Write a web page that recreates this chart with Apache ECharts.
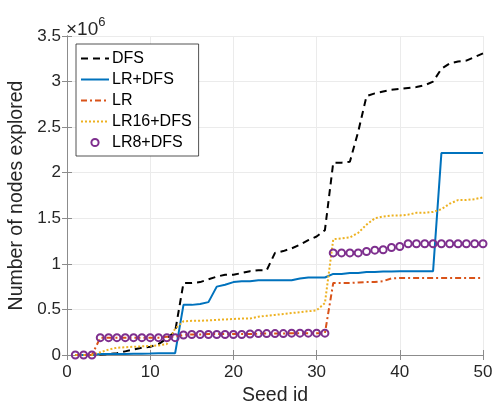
<!DOCTYPE html>
<html>
<head>
<meta charset="utf-8">
<script src="https://cdn.jsdelivr.net/npm/echarts@6/dist/echarts.min.js"></script>
<style>
  html, body { margin: 0; padding: 0; background: #fff; }
  #chart { width: 493px; height: 407px; }
</style>
</head>
<body>
<div id="chart"></div>
<script>
// seed ids on the x axis
const seeds = [1, 2, 3, 4, 5, 6, 7, 8, 9, 10,
  11, 12, 13, 14, 15, 16, 17, 18, 19, 20,
  21, 22, 23, 24, 25, 26, 27, 28, 29, 30,
  31, 32, 33, 34, 35, 36, 37, 38, 39, 40,
  41, 42, 43, 44, 45, 46, 47, 48, 49, 50];

// nodes explored, in units of 10^6
const dfs = [0, 0, 0, 0.005, 0.01, 0.02, 0.04, 0.06, 0.08, 0.09,
  0.12, 0.18, 0.26, 0.79, 0.79, 0.80, 0.83, 0.86, 0.88, 0.88,
  0.90, 0.92, 0.93, 0.93, 1.12, 1.14, 1.17, 1.21, 1.26, 1.30,
  1.37, 2.11, 2.11, 2.12, 2.45, 2.84, 2.87, 2.89, 2.91, 2.92,
  2.93, 2.94, 2.96, 3.00, 3.14, 3.20, 3.22, 3.23, 3.27, 3.31];

const lrDfs = [0, 0, 0, 0.01, 0.01, 0.01, 0.012, 0.014, 0.015, 0.016,
  0.018, 0.02, 0.02, 0.55, 0.55, 0.56, 0.58, 0.75, 0.77, 0.80,
  0.81, 0.81, 0.82, 0.82, 0.82, 0.82, 0.82, 0.84, 0.85, 0.85,
  0.85, 0.89, 0.89, 0.90, 0.90, 0.91, 0.91, 0.915, 0.915, 0.92,
  0.92, 0.92, 0.92, 0.92, 2.215, 2.215, 2.215, 2.215, 2.215, 2.215];

const lr = [0, 0, 0, 0.19, 0.19, 0.19, 0.19, 0.19, 0.19, 0.19,
  0.19, 0.20, 0.20, 0.22, 0.225, 0.225, 0.23, 0.23, 0.23, 0.23,
  0.23, 0.23, 0.235, 0.235, 0.235, 0.235, 0.24, 0.24, 0.24, 0.24,
  0.24, 0.79, 0.79, 0.79, 0.795, 0.80, 0.80, 0.81, 0.84, 0.845,
  0.845, 0.845, 0.845, 0.845, 0.845, 0.845, 0.845, 0.845, 0.845, 0.845];

const lr16Dfs = [0, 0, 0, 0.03, 0.06, 0.08, 0.085, 0.09, 0.095, 0.10,
  0.105, 0.12, 0.29, 0.37, 0.375, 0.375, 0.38, 0.385, 0.39, 0.395,
  0.40, 0.40, 0.42, 0.43, 0.44, 0.45, 0.46, 0.47, 0.48, 0.49,
  0.57, 1.27, 1.28, 1.29, 1.34, 1.43, 1.50, 1.52, 1.53, 1.53,
  1.54, 1.56, 1.56, 1.57, 1.60, 1.66, 1.70, 1.70, 1.71, 1.73];

const lr8Dfs = [0, 0, 0, 0.19, 0.19, 0.19, 0.19, 0.19, 0.19, 0.19,
  0.19, 0.19, 0.19, 0.22, 0.225, 0.225, 0.225, 0.225, 0.225, 0.225,
  0.225, 0.23, 0.235, 0.235, 0.235, 0.235, 0.24, 0.24, 0.24, 0.24,
  0.24, 1.12, 1.12, 1.12, 1.12, 1.135, 1.15, 1.155, 1.18, 1.19,
  1.22, 1.22, 1.22, 1.22, 1.22, 1.22, 1.22, 1.22, 1.22, 1.22];

const FONT = 'Liberation Sans';
const TXT = '#262626';
const pairs = vals => seeds.map((s, i) => [s, vals[i]]);

const chart = echarts.init(document.getElementById('chart'));

const axisLine = { show: true, lineStyle: { color: '#8c8c8c', width: 1 } };
const tickIn = { show: true, inside: true, length: 5, lineStyle: { color: '#8c8c8c' } };
// line entries show only their line in the legend
const hideSymbol = { color: 'rgba(0,0,0,0)', borderColor: 'rgba(0,0,0,0)', borderWidth: 0, opacity: 0 };

const option = {
  backgroundColor: '#fff',
  animation: false,
  grid: { left: 67, right: 10, top: 36, bottom: 52, outerBoundsMode: 'none' },
  graphic: [{
    type: 'text',
    left: 66,
    top: 16,
    style: {
      text: '{a|×10}{b|6}',
      rich: {
        a: { fontFamily: FONT, fontSize: 19, fill: TXT, verticalAlign: 'bottom' },
        b: { fontFamily: FONT, fontSize: 13, fill: TXT, verticalAlign: 'top', padding: [0, 0, 10, 0] }
      }
    }
  }],
  legend: {
    data: [
      { name: 'DFS', itemStyle: hideSymbol },
      { name: 'LR+DFS', itemStyle: hideSymbol },
      { name: 'LR', itemStyle: hideSymbol },
      { name: 'LR16+DFS', itemStyle: hideSymbol },
      { name: 'LR8+DFS', lineStyle: { opacity: 0, width: 0 } }
    ],
    orient: 'vertical',
    left: 76,
    top: 44,
    padding: [6, 7, 5, 4],
    itemGap: 4,
    itemWidth: 28,
    itemHeight: 9,
    backgroundColor: '#fff',
    borderColor: '#262626',
    borderWidth: 0.8,
    borderRadius: 0,
    textStyle: { fontFamily: FONT, fontSize: 16, lineHeight: 17, color: '#000', padding: [0, 0, 0, -2] }
  },
  xAxis: [{
    type: 'value',
    min: 0, max: 50, interval: 10,
    name: 'Seed id',
    nameLocation: 'middle',
    nameGap: 30,
    nameTextStyle: { fontFamily: FONT, fontSize: 19.5, color: TXT },
    axisLine: axisLine,
    axisTick: tickIn,
    axisLabel: { fontFamily: FONT, fontSize: 17, color: TXT, margin: 9 },
    splitLine: { show: true, lineStyle: { color: '#ebebeb' } }
  }, {
    type: 'value', position: 'top',
    min: 0, max: 50, interval: 10,
    axisLine: axisLine, axisTick: tickIn,
    axisLabel: { show: false }, splitLine: { show: false }
  }],
  yAxis: [{
    type: 'value',
    min: 0, max: 3.5, interval: 0.5,
    name: 'Number of nodes explored',
    nameLocation: 'middle',
    nameGap: 37,
    nameTextStyle: { fontFamily: FONT, fontSize: 19.5, color: TXT },
    axisLine: axisLine,
    axisTick: tickIn,
    axisLabel: { fontFamily: FONT, fontSize: 17, color: TXT, margin: 6 },
    splitLine: { show: true, lineStyle: { color: '#ebebeb' } }
  }, {
    type: 'value', position: 'right',
    min: 0, max: 3.5, interval: 0.5,
    axisLine: axisLine, axisTick: tickIn,
    axisLabel: { show: false }, splitLine: { show: false }
  }],
  series: [
    {
      name: 'DFS', type: 'line', data: pairs(dfs),
      symbol: 'none', color: '#000',
      lineStyle: { color: '#000', width: 2, type: [7, 5] }
    },
    {
      name: 'LR+DFS', type: 'line', data: pairs(lrDfs),
      symbol: 'none', color: '#0072BD',
      lineStyle: { color: '#0072BD', width: 2 }
    },
    {
      name: 'LR', type: 'line', data: pairs(lr),
      symbol: 'none', color: '#D95319',
      lineStyle: { color: '#D95319', width: 2, type: [6, 3, 2, 3] }
    },
    {
      name: 'LR16+DFS', type: 'line', data: pairs(lr16Dfs),
      symbol: 'none', color: '#EDB120',
      lineStyle: { color: '#EDB120', width: 2, type: [2, 2] }
    },
    {
      name: 'LR8+DFS', type: 'line', data: pairs(lr8Dfs),
      symbol: 'circle', symbolSize: 7, showAllSymbol: true, color: '#7E2F8E',
      itemStyle: { color: 'rgba(0,0,0,0)', borderColor: '#7E2F8E', borderWidth: 2 },
      lineStyle: { width: 0, opacity: 0 }
    }
  ]
};

chart.setOption(option);
</script>
</body>
</html>
